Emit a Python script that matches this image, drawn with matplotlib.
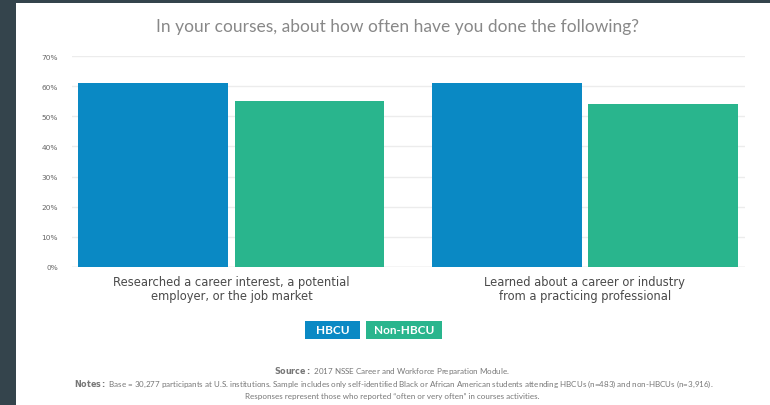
import matplotlib
matplotlib.use("Agg")
import matplotlib.pyplot as plt
from matplotlib.patches import Rectangle
from matplotlib.ticker import FuncFormatter

categories = ["Researched a career interest, a potential\nemployer, or the job market",
              "Learned about a career or industry\nfrom a practicing professional"]
series_names = ["HBCU", "Non-HBCU"]
hbcu = [61, 61]
non_hbcu = [55, 54]
yticks = [0, 10, 20, 30, 40, 50, 60, 70]

blue = "#0a89c4"
green = "#29b58d"
W, H = 770, 406
fig = plt.figure(figsize=(W / 100, H / 100), dpi=100)
fig.patch.set_facecolor("#34444c")
fig.patches.append(Rectangle((16 / W, 0), 1 - 16 / W, 1 - 4 / H, transform=fig.transFigure,
                             facecolor="white", edgecolor="none", zorder=-5))

ax = fig.add_axes([72 / W, 1 - 268 / H, (745 - 72) / W, (268 - 57) / H])
ax.set_zorder(2)
ax.patch.set_alpha(0)
xs = list(range(len(categories)))
width = 0.424
off = 0.221
ax.bar([x - off for x in xs], hbcu, width, color=blue, zorder=3)
ax.bar([x + off for x in xs], non_hbcu, width, color=green, zorder=3)
ax.set_xlim(-0.451, 1.453)
ax.set_ylim(0, 70)
ax.set_yticks(yticks)
ax.yaxis.set_major_formatter(FuncFormatter(lambda v, p: f"{int(v)}%"))
ax.grid(axis="y", color="#ececec", linewidth=1, zorder=0)
for s in ax.spines.values():
    s.set_visible(False)
ax.axhline(0, color="#dddddd", linewidth=1, zorder=2)
ax.tick_params(axis="y", length=0, labelsize=5.3, labelcolor="#666666", pad=10)
ax.set_xticks(xs)
ax.set_xticklabels(categories, fontsize=8.3, color="#4a4a4a", linespacing=1.1)
ax.tick_params(axis="x", length=0, pad=6)
for lbl in ax.get_xticklabels() + ax.get_yticklabels():
    lbl.set_family("DejaVu Sans")

fig.text(397 / W, 1 - 27 / H, "In your courses, about how often have you done the following?",
         ha="center", va="center", fontsize=12.5, color="#888888", family="Lato", zorder=3)

# legend boxes
for name, col, x0, x1 in [(series_names[0], blue, 305, 360), (series_names[1], green, 366, 442)]:
    fig.patches.append(Rectangle((x0 / W, 1 - 340 / H), (x1 - x0) / W, 18 / H,
                                 transform=fig.transFigure, facecolor=col, edgecolor="none", zorder=2))
    fig.text((x0 + x1) / 2 / W, 1 - 331 / H, name, ha="center", va="center", fontsize=8.5,
             color="white", weight="bold", family="Lato", zorder=3)

foot_kw = dict(ha="center", va="center", fontsize=5.8, color="#777777", family="Lato", zorder=3)
fig.text(392 / W, 1 - 371 / H, r"$\bf{Source:}$ 2017 NSSE Career and Workforce Preparation Module.", **foot_kw)
fig.text(394 / W, 1 - 384 / H,
         r"$\bf{Notes:}$ Base = 30,277 participants at U.S. institutions. Sample includes only self-identified Black or African American students attending HBCUs (n=483) and non-HBCUs (n=3,916).",
         **foot_kw)
fig.text(392 / W, 1 - 397 / H,
         "Responses represent those who reported \u201coften or very often\u201d in courses activities.", **foot_kw)

fig.savefig("out.png", dpi=100, facecolor=fig.get_facecolor())
